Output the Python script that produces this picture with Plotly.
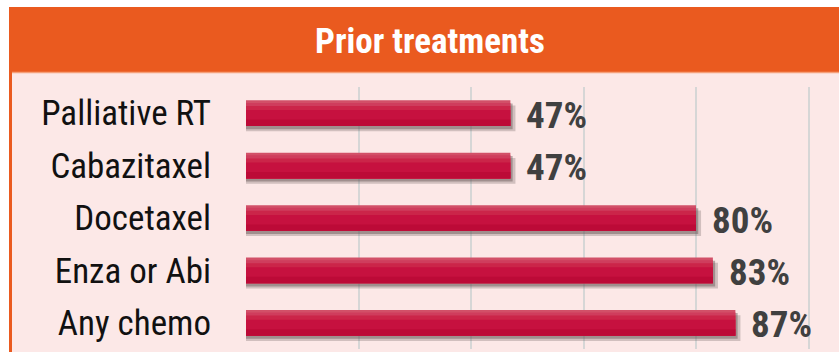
import plotly.graph_objects as go

categories = ["Palliative RT", "Cabazitaxel", "Docetaxel", "Enza or Abi", "Any chemo"]
values = [47, 47, 80, 83, 87]
value_labels = ["47%", "47%", "80%", "83%", "87%"]
title_text = "Prior treatments"

W, H = 839, 352
L, R, T, B = 246, 0, 87, 3
pw, ph = W - L - R, H - T - B

def px_x(px):
    return (px - L) / pw

def px_y(py):
    return (H - B - py) / ph

ORANGE = "#ea5a1f"
PINK = "#fce8e7"
NARROW = "Liberation Sans Narrow, Arial Narrow, Roboto Condensed, Liberation Sans, sans-serif"

fig = go.Figure()

BW = 0.49
# shadow
fig.add_trace(go.Bar(y=categories, x=[v + 0.9 for v in values], orientation="h",
                     width=BW, offset=-BW / 2 + 0.1,
                     marker=dict(color="rgba(110,95,95,0.30)", line=dict(width=0)),
                     hoverinfo="skip", showlegend=False))
fig.add_trace(go.Bar(y=categories, x=[v + 0.4 for v in values], orientation="h",
                     width=BW, offset=-BW / 2 + 0.06,
                     marker=dict(color="rgba(100,85,85,0.45)", line=dict(width=0)),
                     hoverinfo="skip", showlegend=False))
# bar with gradient bands (top to bottom on reversed axis); each band runs to the bar bottom
bands = [
    (0.00, "#d25068"),
    (0.10, "#cf3d5d"),
    (0.22, "#cb2549"),
    (0.38, "#c6113f"),
    (0.75, "#bc0a37"),
]
for a, c in bands:
    fig.add_trace(go.Bar(y=categories, x=values, orientation="h",
                         width=BW * (1 - a), offset=-BW / 2 + BW * a,
                         marker=dict(color=c, line=dict(width=0)),
                         hoverinfo="skip", showlegend=False))

annotations = []
for cat, v, lab in zip(categories, values, value_labels):
    annotations.append(dict(x=v, y=cat, xref="x", yref="y", text=lab, showarrow=False,
                            xanchor="left", yanchor="middle", xshift=14, yshift=-2,
                            font=dict(family=NARROW, size=37, color="#404040", weight="bold")))
annotations.append(dict(x=px_x(430), y=px_y(41), xref="paper", yref="paper", text=title_text,
                        showarrow=False, xanchor="center", yanchor="middle",
                        font=dict(family=NARROW, size=35, color="white", weight="bold")))

shapes = [
    dict(type="rect", xref="paper", yref="paper", x0=px_x(10.5), x1=px_x(W + 10), y0=px_y(H + 10), y1=px_y(8.5),
         fillcolor=PINK, line=dict(color=ORANGE, width=3), layer="below"),
    dict(type="rect", xref="paper", yref="paper", x0=px_x(9), x1=px_x(W + 10), y0=px_y(72), y1=px_y(7),
         fillcolor=ORANGE, line=dict(width=0), layer="below"),
    dict(type="line", xref="paper", yref="paper", x0=px_x(12), x1=px_x(W + 10), y0=px_y(72.5), y1=px_y(72.5),
         line=dict(color="#f5a07a", width=1.5), layer="below"),
]

fig.update_layout(
    width=W, height=H,
    margin=dict(l=L, r=R, t=T, b=B),
    paper_bgcolor="white",
    plot_bgcolor="rgba(0,0,0,0)",
    barmode="overlay",
    showlegend=False,
    shapes=shapes,
    annotations=annotations,
    xaxis=dict(range=[0, pw / 5.625], dtick=20, tick0=0, showgrid=True, gridcolor="#d6d6d6",
               gridwidth=1.5, showticklabels=False, zeroline=False, showline=False, ticks="",
               fixedrange=True),
    yaxis=dict(autorange=False, range=[4.5, -0.5], showgrid=False, zeroline=False, showline=False,
               ticks="", ticklabelstandoff=34,
               tickfont=dict(family=NARROW, size=35, color="#111111"), fixedrange=True),
)

fig.write_html("out.html")
